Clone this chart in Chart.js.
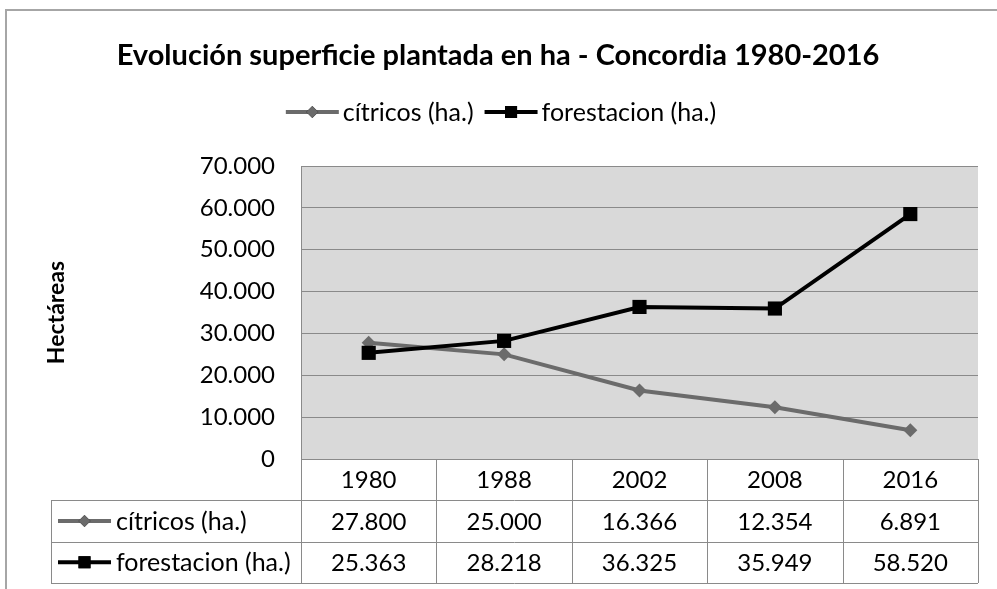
<!DOCTYPE html>
<html>
  <head>
    <title>Evolución superficie plantada</title>
    <script src="https://cdn.jsdelivr.net/npm/chart.js"></script>
    <style>
      html, body { margin: 0; padding: 0; background: #fff; }
      .chart-container { width: 997px; height: 589px; position: relative; }
    </style>
  </head>
  <body>
    <div class="chart-container">
      <canvas id="chart"></canvas>
    </div>
    <script>
      const years = ['1980', '1988', '2002', '2008', '2016'];
      const citricos = [27800, 25000, 16366, 12354, 6891];
      const forestacion = [25363, 28218, 36325, 35949, 58520];
      const seriesNames = ['cítricos (ha.)', 'forestacion (ha.)'];
      const chartTitle = 'Evolución superficie plantada en ha - Concordia 1980-2016';
      const yTitle = 'Hectáreas';

      const FONT = 'Lato, "Open Sans", sans-serif';
      const GRID = '#8a8a8a';

      // 27800 -> "27.800"
      function fmt(v) {
        return String(v).replace(/\B(?=(\d{3})+(?!\d))/g, '.');
      }

      // little line + marker, like the excel legend keys
      function drawKey(ctx, x, y, ds) {
        ctx.save();
        ctx.strokeStyle = ds.borderColor;
        ctx.lineWidth = ds.borderWidth;
        ctx.beginPath();
        ctx.moveTo(x, y);
        ctx.lineTo(x + 53, y);
        ctx.stroke();
        Chart.helpers.drawPoint(ctx, {
          pointStyle: ds.pointStyle,
          radius: ds.pointStyle === 'rect' ? 8.5 : 6,
          borderWidth: 0
        }, x + 26.5, y);
        ctx.fillStyle = ds.pointBackgroundColor;
        ctx.fill();
        ctx.restore();
      }

      const excelLook = {
        id: 'excelLook',
        beforeDraw(chart) {
          const { ctx, chartArea: a } = chart;
          ctx.save();
          ctx.fillStyle = '#d9d9d9';
          ctx.fillRect(a.left, a.top, a.right - a.left, a.bottom - a.top);
          // outer frame (left + top only, the rest is cut off)
          ctx.strokeStyle = '#a6a6a6';
          ctx.lineWidth = 2;
          ctx.beginPath();
          ctx.moveTo(6, 589);
          ctx.lineTo(6, 10);
          ctx.lineTo(997, 10);
          ctx.stroke();
          ctx.restore();
        },
        afterDraw(chart) {
          const { ctx, chartArea: a } = chart;
          const dsets = chart.data.datasets;
          ctx.save();

          // title
          ctx.fillStyle = '#000';
          ctx.textAlign = 'center';
          ctx.textBaseline = 'middle';
          ctx.font = 'bold 29px ' + FONT;
          ctx.fillText(chartTitle, 498, 56);

          // top legend
          ctx.font = '25px ' + FONT;
          const w1 = ctx.measureText(seriesNames[0]).width;
          const w2 = ctx.measureText(seriesNames[1]).width;
          const total = 57 + w1 + 11 + 57 + w2;
          let lx = 501 - total / 2;
          const ly = 112;
          ctx.textAlign = 'left';
          drawKey(ctx, lx, ly, dsets[0]);
          ctx.fillText(seriesNames[0], lx + 57, ly + 1);
          lx += 57 + w1 + 11;
          drawKey(ctx, lx, ly, dsets[1]);
          ctx.fillText(seriesNames[1], lx + 57, ly + 1);

          // data table under the plot
          const colW = (a.right - a.left) / years.length;
          const rowH = 41.3;
          const r0 = a.bottom, r1 = r0 + rowH, r2 = r1 + rowH, r3 = r2 + rowH;
          const tabLeft = 51;
          ctx.strokeStyle = GRID;
          ctx.lineWidth = 1;
          ctx.beginPath();
          [r1, r2, r3].forEach(y => {
            ctx.moveTo(tabLeft, Math.round(y) + 0.5);
            ctx.lineTo(a.right, Math.round(y) + 0.5);
          });
          ctx.moveTo(tabLeft + 0.5, Math.round(r1));
          ctx.lineTo(tabLeft + 0.5, Math.round(r3));
          for (let i = 0; i <= years.length; i++) {
            const x = Math.round(a.left + i * colW) + 0.5;
            ctx.moveTo(x, r0);
            ctx.lineTo(x, Math.round(r3));
          }
          ctx.stroke();

          ctx.font = '24px ' + FONT;
          ctx.fillStyle = '#000';
          ctx.textBaseline = 'middle';
          ctx.textAlign = 'center';
          const rows = [years, citricos.map(fmt), forestacion.map(fmt)];
          const mids = [(r0 + r1) / 2, (r1 + r2) / 2, (r2 + r3) / 2];
          rows.forEach((row, j) => {
            row.forEach((t, i) => {
              ctx.fillText(t, a.left + (i + 0.5) * colW, mids[j] + 1);
            });
          });
          ctx.font = '25px ' + FONT;
          ctx.textAlign = 'left';
          [0, 1].forEach(k => {
            drawKey(ctx, 58, mids[k + 1], dsets[k]);
            ctx.fillText(seriesNames[k], 116, mids[k + 1] + 1);
          });
          ctx.restore();
        }
      };

      new Chart(document.getElementById('chart'), {
        type: 'line',
        data: {
          labels: years,
          datasets: [
            {
              label: seriesNames[0],
              data: citricos,
              borderColor: '#6b6b6b',
              backgroundColor: '#6b6b6b',
              pointBackgroundColor: '#6b6b6b',
              borderWidth: 4,
              pointStyle: 'rectRot',
              pointRadius: 7,
              pointBorderWidth: 0,
              tension: 0,
              order: 1
            },
            {
              label: seriesNames[1],
              data: forestacion,
              borderColor: '#000000',
              backgroundColor: '#000000',
              pointBackgroundColor: '#000000',
              borderWidth: 4,
              pointStyle: 'rect',
              pointRadius: 10,
              pointBorderWidth: 0,
              tension: 0,
              order: 0
            }
          ]
        },
        options: {
          responsive: true,
          maintainAspectRatio: false,
          animation: false,
          layout: { padding: { top: 166, bottom: 130, right: 19, left: 0 } },
          plugins: {
            legend: { display: false },
            title: { display: false },
            tooltip: { enabled: false }
          },
          scales: {
            x: {
              display: false,
              offset: true
            },
            y: {
              min: 0,
              max: 70000,
              afterFit(scale) { scale.width = 301; },
              ticks: {
                stepSize: 10000,
                padding: 26,
                color: '#000',
                font: { family: FONT, size: 24 },
                callback: v => fmt(v)
              },
              grid: { color: GRID, drawTicks: false },
              border: { color: GRID },
              title: {
                display: true,
                text: yTitle,
                color: '#000',
                font: { family: FONT, size: 23, weight: 'bold' },
                padding: { top: 43, bottom: 0 }
              }
            }
          }
        },
        plugins: [excelLook]
      });
    </script>
  </body>
</html>
